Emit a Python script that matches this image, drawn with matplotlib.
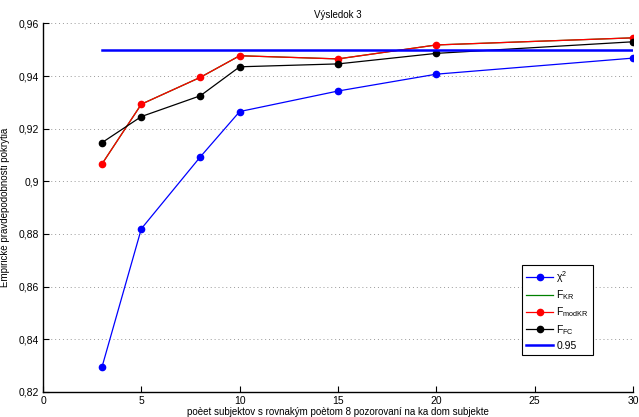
import matplotlib.pyplot as plt
from matplotlib.ticker import FuncFormatter

plt.rcParams['font.family'] = ['Liberation Sans', 'DejaVu Sans']
plt.rcParams['mathtext.fontset'] = 'custom'
plt.rcParams['mathtext.rm'] = 'Liberation Sans'
plt.rcParams['mathtext.it'] = 'Liberation Sans'

# pocet subjektov
n_subj = [3, 5, 8, 10, 15, 20, 30]

chi2 = [0.8295, 0.8820, 0.9093, 0.9265, 0.9343, 0.9407, 0.9468]
f_kr = [0.9066, 0.9293, 0.9395, 0.9477, 0.9465, 0.9518, 0.9545]
f_modkr = [0.9066, 0.9293, 0.9395, 0.9477, 0.9465, 0.9518, 0.9545]
f_fc = [0.9147, 0.9246, 0.9325, 0.9435, 0.9446, 0.9486, 0.9530]

level_x = [3, 30]
level = 0.95

fig = plt.figure(figsize=(6.39, 4.17), dpi=100)
ax = fig.add_axes([0.0673, 0.06, 0.9233, 0.884])

ax.plot(n_subj, chi2, color='blue', lw=0.9, marker='o', ms=4.5, label=r'$\chi^2$')
ax.plot(n_subj, f_kr, color='green', lw=0.9, label=r'F$_{\rm KR}$')
ax.plot(n_subj, f_modkr, color='red', lw=0.9, marker='o', ms=4.5, label=r'F$_{\rm modKR}$')
ax.plot(n_subj, f_fc, color='black', lw=0.9, marker='o', ms=4.5, label=r'F$_{\rm FC}$')
ax.plot(level_x, [level, level], color='blue', lw=1.8, label='0.95')

ax.set_xlim(0, 30)
ax.set_ylim(0.82, 0.96)
ax.set_xticks(range(0, 31, 5))
ax.set_yticks([0.82, 0.84, 0.86, 0.88, 0.90, 0.92, 0.94, 0.96])
ax.yaxis.set_major_formatter(FuncFormatter(lambda v, p: ('%g' % round(v, 2)).replace('.', ',')))
ax.tick_params(direction='in', labelsize=7.5, length=4, width=0.8, pad=3)
ax.yaxis.grid(True, linestyle=(0, (1, 3)), color='#999999', lw=0.7)

ax.spines['top'].set_visible(False)
ax.spines['right'].set_visible(False)
ax.spines['left'].set_linewidth(1.0)
ax.spines['bottom'].set_linewidth(1.0)

ax.set_title('Výsledok 3', fontsize=7, pad=4)
ax.set_ylabel('Empirické pravdepodobnosti pokrytia', fontsize=7, labelpad=6)
ax.set_xlabel('poèet subjektov s rovnakým poètom 8 pozorovaní na ka dom subjekte',
              fontsize=7, labelpad=0.5)

leg = ax.legend(loc='lower left', bbox_to_anchor=(0.803, 0.087), fontsize=7.5,
                fancybox=False, framealpha=1, edgecolor='black',
                handlelength=2.6, borderpad=0.4, labelspacing=0.35, handletextpad=0.3)
leg.get_frame().set_linewidth(0.8)

fig.savefig('out.png', dpi=100)
